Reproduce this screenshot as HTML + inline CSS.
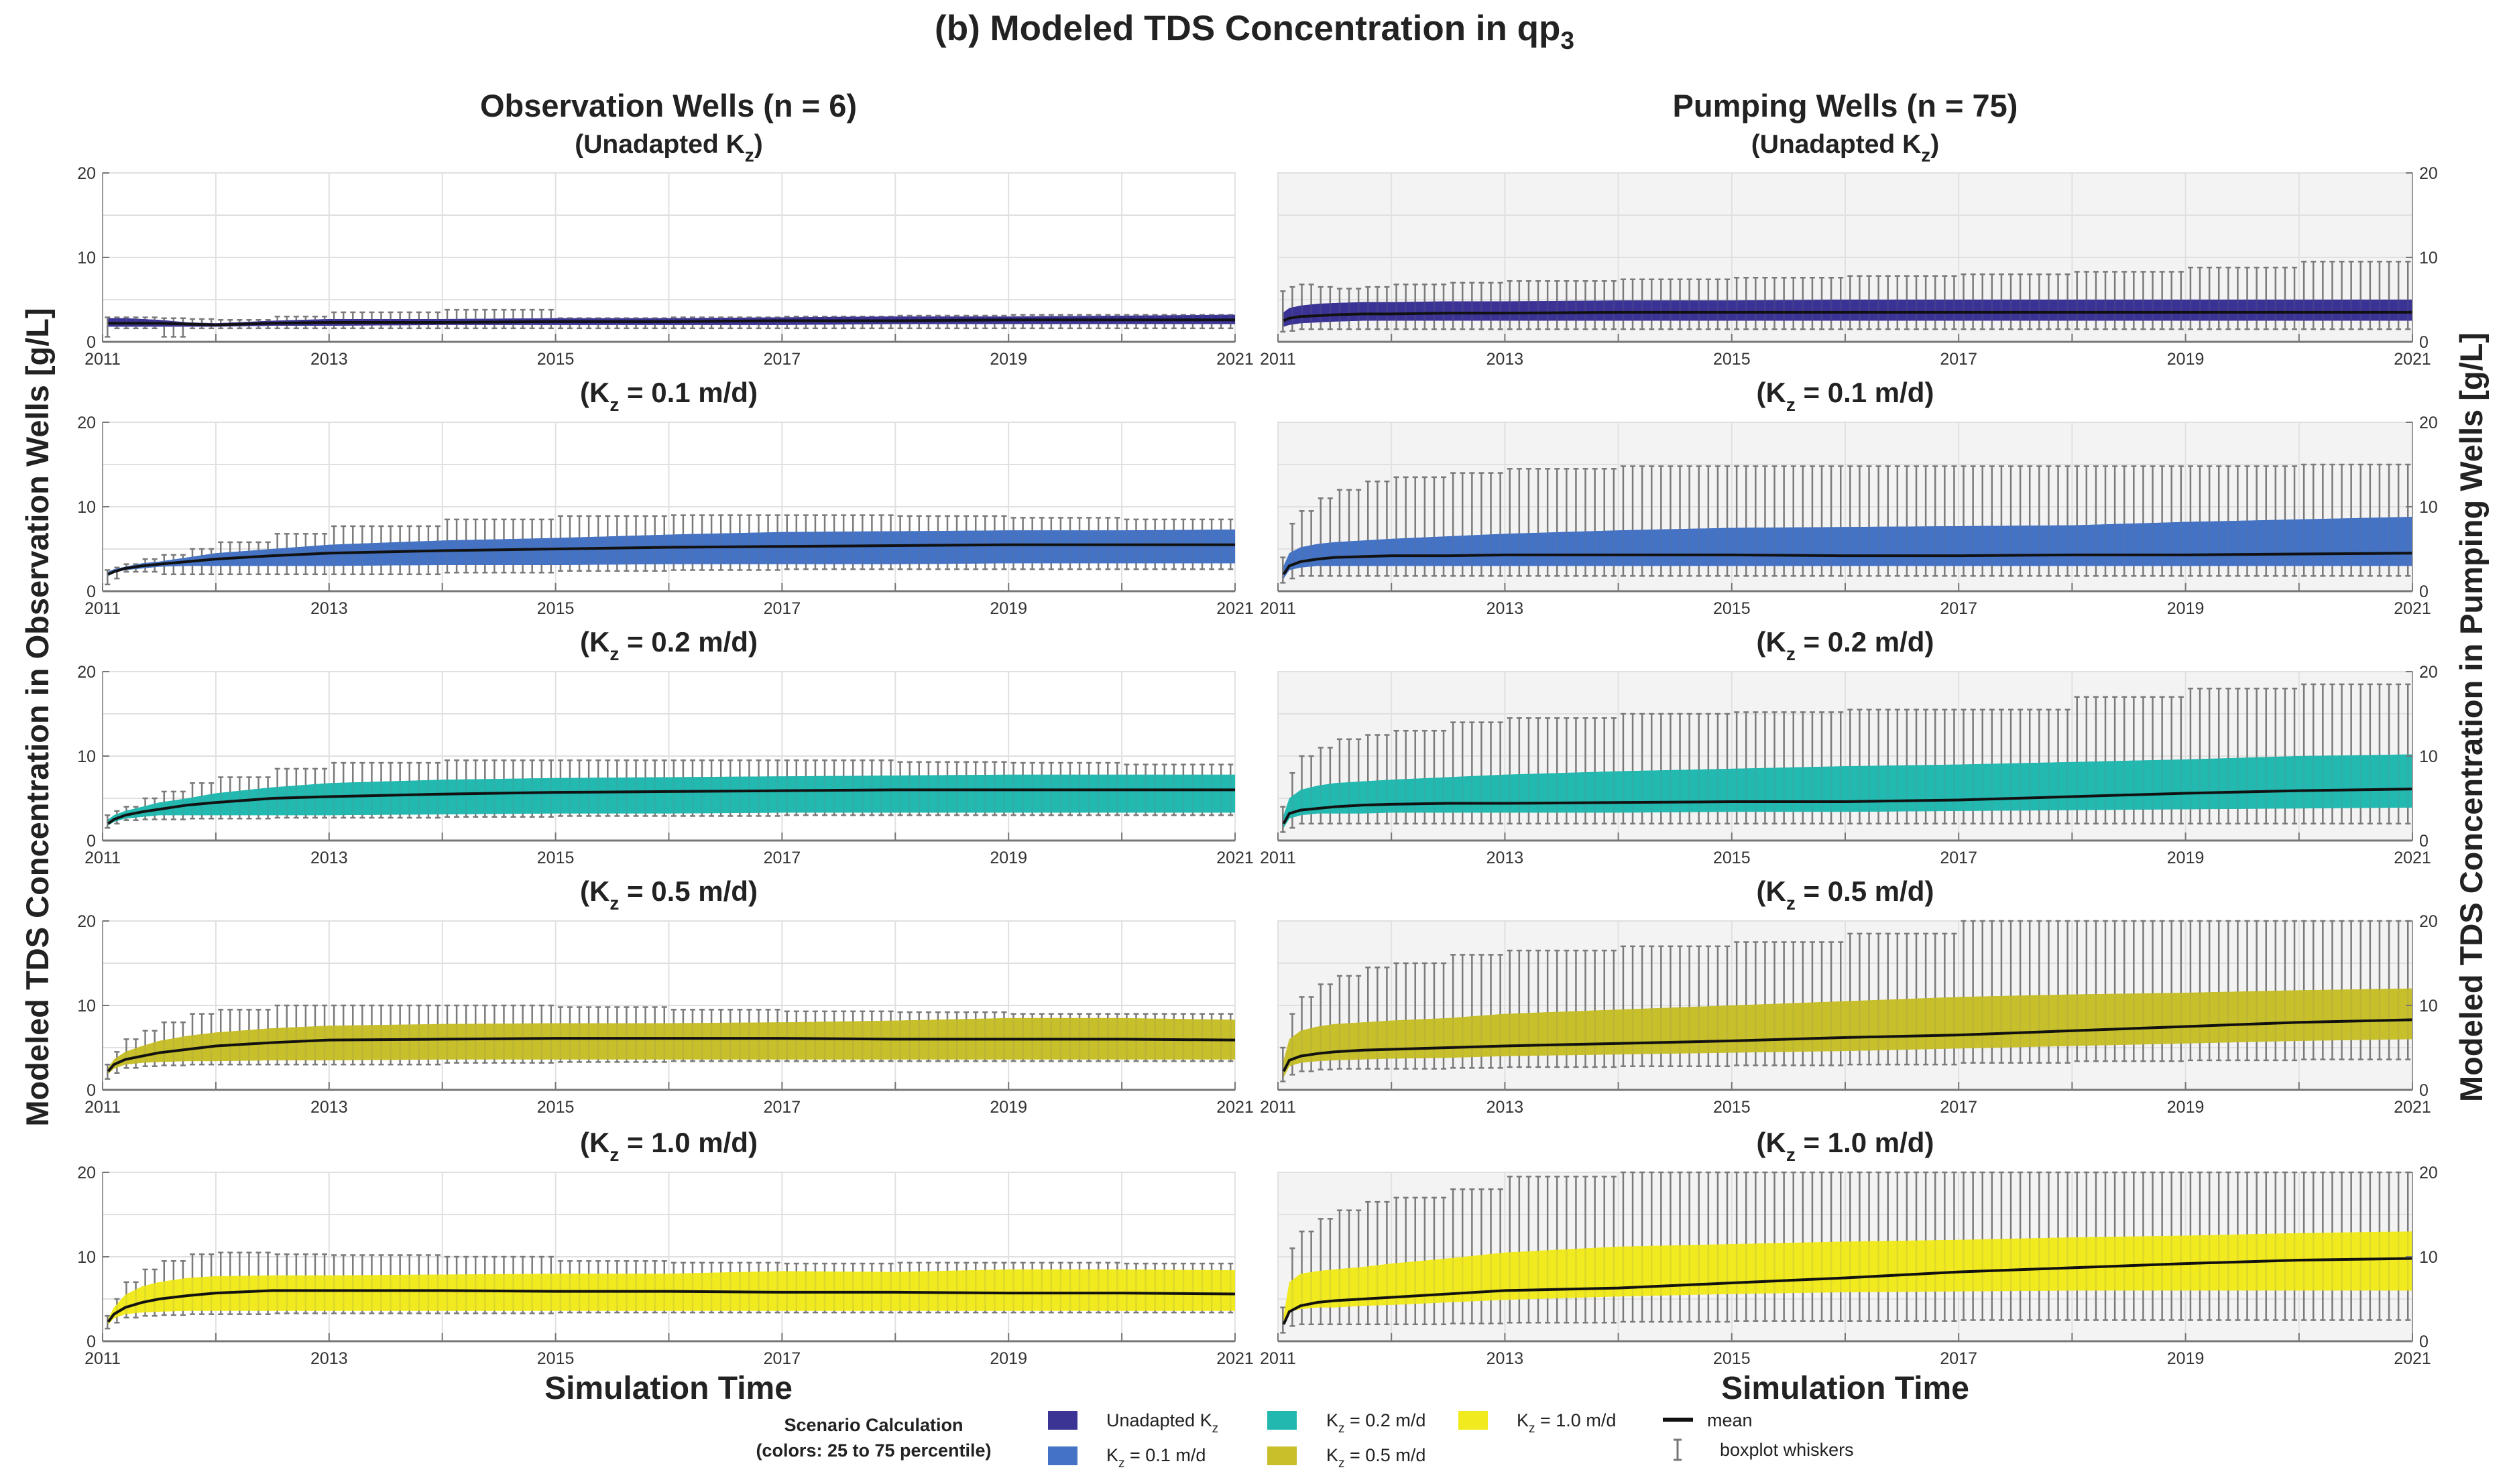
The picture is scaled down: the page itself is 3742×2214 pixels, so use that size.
<!DOCTYPE html>
<html><head><meta charset="utf-8"><style>
html,body{margin:0;padding:0;background:#fff}
svg{display:block;font-family:"Liberation Sans",Arial,sans-serif}
</style></head><body>
<svg id="chart" width="3742" height="2214" viewBox="0 0 3742 2214" xmlns="http://www.w3.org/2000/svg">
<text x="1871" y="60" text-anchor="middle" font-size="53" font-weight="bold" fill="#222">(b) Modeled TDS Concentration in qp<tspan font-size="37" dy="13">3</tspan></text>
<text x="997" y="174" text-anchor="middle" font-size="47" font-weight="bold" fill="#222">Observation Wells (n = 6)</text>
<text x="2752" y="174" text-anchor="middle" font-size="47" font-weight="bold" fill="#222">Pumping Wells (n = 75)</text>
<text transform="translate(72,1070) rotate(-90)" text-anchor="middle" font-size="47" font-weight="bold" fill="#222">Modeled TDS Concentration in Observation Wells [g/L]</text>
<text transform="translate(3702,1070) rotate(-90)" text-anchor="middle" font-size="47" font-weight="bold" fill="#222">Modeled TDS Concentration in Pumping Wells [g/L]</text>
<text x="997" y="2087" text-anchor="middle" font-size="48" font-weight="bold" fill="#222">Simulation Time</text>
<text x="2752" y="2087" text-anchor="middle" font-size="48" font-weight="bold" fill="#222">Simulation Time</text>
<g id="panels"></g>
<g font-size="27" fill="#222">
  <text x="1303" y="2135" text-anchor="middle" font-weight="bold" font-size="27">Scenario Calculation</text>
  <text x="1303" y="2173" text-anchor="middle" font-weight="bold" font-size="27">(colors: 25 to 75 percentile)</text>
  <rect x="1563" y="2105" width="44" height="28" fill="#3b3495"/>
  <text x="1650" y="2128">Unadapted K<tspan font-size="19" dy="9">z</tspan></text>
  <rect x="1563" y="2158" width="44" height="28" fill="#4472c4"/>
  <text x="1650" y="2180">K<tspan font-size="19" dy="9">z</tspan><tspan dy="-9"> = 0.1 m/d</tspan></text>
  <rect x="1890" y="2105" width="44" height="28" fill="#22b8b0"/>
  <text x="1978" y="2128">K<tspan font-size="19" dy="9">z</tspan><tspan dy="-9"> = 0.2 m/d</tspan></text>
  <rect x="1890" y="2158" width="44" height="28" fill="#c8bf2a"/>
  <text x="1978" y="2180">K<tspan font-size="19" dy="9">z</tspan><tspan dy="-9"> = 0.5 m/d</tspan></text>
  <rect x="2175" y="2105" width="44" height="28" fill="#f0ea1e"/>
  <text x="2262" y="2128">K<tspan font-size="19" dy="9">z</tspan><tspan dy="-9"> = 1.0 m/d</tspan></text>
  <line x1="2480" y1="2118" x2="2525" y2="2118" stroke="#111" stroke-width="6"/>
  <text x="2546" y="2128">mean</text>
  <g stroke="#777" stroke-width="3">
    <line x1="2502" y1="2148" x2="2502" y2="2178"/><line x1="2496" y1="2148" x2="2508" y2="2148"/><line x1="2496" y1="2178" x2="2508" y2="2178"/>
  </g>
  <text x="2565" y="2172">boxplot whiskers</text>
</g>
</svg>
<script>
// time knots (years since 2011)
const tKnots = [0.05,0.1,0.2,0.35,0.5,0.75,1,1.5,2,3,4,5,6,7,8,9,10];
const yearLabels = ["2011","2013","2015","2017","2019","2021"];
const yTicks = [0,10,20];
const panelTitles = ["(Unadapted K_z)","(K_z = 0.1 m/d)","(K_z = 0.2 m/d)","(K_z = 0.5 m/d)","(K_z = 1.0 m/d)"];
const scenarioColors = ["#3b3495","#4472c4","#22b8b0","#c8bf2a","#f0ea1e"];
// observation wells
const obsMean = [
 [2.2,2.2,2.2,2.2,2.2,2.1,2.0,2.2,2.3,2.3,2.4,2.4,2.5,2.5,2.6,2.6,2.6],
 [2.0,2.3,2.7,3.0,3.2,3.5,3.8,4.2,4.5,4.8,5.0,5.2,5.3,5.4,5.5,5.5,5.5],
 [2.0,2.5,3.0,3.4,3.7,4.2,4.5,5.0,5.2,5.5,5.7,5.8,5.9,6.0,6.0,6.0,6.0],
 [2.2,3.0,3.6,4.0,4.4,4.8,5.2,5.6,5.9,6.0,6.1,6.1,6.1,6.0,6.0,6.0,5.9],
 [2.3,3.2,4.0,4.6,5.0,5.4,5.7,6.0,6.0,6.0,5.9,5.9,5.8,5.8,5.7,5.7,5.6]];
const obsLow = [
 [1.8,1.8,1.8,1.8,1.8,1.8,1.8,1.9,1.9,2.0,2.0,2.0,2.0,2.1,2.1,2.1,2.1],
 [1.8,2.2,2.5,2.7,2.9,3.0,3.0,3.0,3.0,3.1,3.1,3.2,3.2,3.2,3.3,3.3,3.3],
 [1.8,2.2,2.6,2.8,3.0,3.0,3.0,3.0,3.0,3.1,3.2,3.2,3.3,3.3,3.3,3.3,3.3],
 [1.9,2.5,3.0,3.2,3.3,3.4,3.4,3.5,3.5,3.6,3.6,3.6,3.6,3.6,3.6,3.6,3.6],
 [2.0,2.7,3.2,3.4,3.5,3.6,3.6,3.6,3.6,3.6,3.6,3.6,3.6,3.6,3.6,3.6,3.6]];
const obsHigh = [
 [2.8,2.8,2.8,2.7,2.6,2.3,2.2,2.5,2.7,2.7,2.8,2.8,2.9,3.0,3.0,3.1,3.2],
 [2.3,2.6,2.9,3.3,3.5,4.0,4.5,5.0,5.5,6.0,6.3,6.7,7.0,7.1,7.2,7.2,7.3],
 [2.5,3.0,3.5,4.0,4.5,5.0,5.6,6.3,6.8,7.2,7.4,7.5,7.6,7.7,7.8,7.8,7.8],
 [2.6,3.6,4.5,5.2,5.8,6.4,6.8,7.3,7.6,7.8,7.9,7.9,8.0,8.2,8.5,8.5,8.3],
 [2.7,4.0,5.5,6.5,7.0,7.5,7.7,7.8,7.8,7.9,8.0,8.0,8.3,8.2,8.5,8.5,8.4]];
const obsWhiskHigh = [
 [2.9,2.9,2.9,2.9,2.8,2.7,2.6,3.0,3.5,3.8,2.8,2.9,3.0,3.1,3.2,3.2,3.3],
 [2.5,2.8,3.2,3.8,4.3,5.0,5.8,6.8,7.7,8.5,8.9,9.0,9.0,8.9,8.7,8.5,8.1],
 [3.0,3.5,4.0,5.0,5.8,6.8,7.5,8.5,9.2,9.5,9.5,9.5,9.5,9.3,9.2,9.0,8.8],
 [3.0,4.5,6.0,7.0,8.0,9.0,9.5,10.0,10.0,10.0,9.8,9.5,9.3,9.2,9.0,9.0,8.8],
 [3.0,5.0,7.0,8.5,9.5,10.3,10.5,10.3,10.2,10.0,9.5,9.3,9.2,9.3,9.3,9.2,9.0]];
const obsWhiskLow = [
 [0.6,1.6,1.6,1.6,0.6,1.6,1.6,1.6,1.6,1.6,1.6,1.6,1.6,1.6,1.6,1.6,1.6],
 [0.8,1.5,2.3,2.3,2.0,2.0,2.0,2.0,2.0,2.2,2.4,2.5,2.6,2.6,2.6,2.6,2.6],
 [1.5,2.0,2.4,2.5,2.5,2.6,2.6,2.7,2.7,2.8,2.9,2.9,3.0,3.0,3.0,3.0,3.0],
 [1.3,2.0,2.6,2.8,2.9,3.0,3.0,3.0,3.0,3.2,3.3,3.4,3.4,3.4,3.4,3.4,3.4],
 [1.5,2.2,2.8,3.0,3.1,3.2,3.2,3.3,3.3,3.3,3.4,3.4,3.4,3.4,3.4,3.4,3.4]];
// pumping wells
const pumpMean = [
 [2.5,2.8,3.0,3.1,3.2,3.3,3.3,3.4,3.4,3.5,3.5,3.5,3.5,3.5,3.5,3.5,3.5],
 [2.0,3.0,3.5,3.8,4.0,4.1,4.2,4.2,4.3,4.3,4.3,4.2,4.2,4.3,4.3,4.4,4.5],
 [2.0,3.2,3.6,3.8,4.0,4.2,4.3,4.4,4.4,4.5,4.6,4.6,4.8,5.2,5.6,5.9,6.1],
 [2.2,3.5,4.0,4.3,4.5,4.7,4.8,5.0,5.2,5.5,5.8,6.2,6.5,7.0,7.5,8.0,8.3],
 [2.0,3.5,4.2,4.6,4.8,5.0,5.2,5.6,6.0,6.3,6.9,7.5,8.2,8.7,9.2,9.6,9.8]];
const pumpLow = [
 [1.8,2.0,2.2,2.3,2.4,2.5,2.5,2.5,2.5,2.5,2.5,2.5,2.5,2.5,2.5,2.5,2.5],
 [1.5,2.5,2.8,3.0,3.0,3.0,3.0,3.0,3.0,3.0,3.0,3.0,3.0,3.0,3.0,3.0,3.0],
 [1.5,2.6,3.0,3.2,3.2,3.2,3.3,3.3,3.3,3.3,3.4,3.4,3.5,3.6,3.7,3.8,3.9],
 [1.5,2.8,3.2,3.4,3.5,3.6,3.7,3.8,4.0,4.2,4.4,4.6,4.9,5.2,5.5,5.8,6.0],
 [2.0,3.5,3.8,4.0,4.0,4.2,4.3,4.6,4.9,5.3,5.6,5.8,5.9,6.0,6.0,6.0,6.0]];
const pumpHigh = [
 [3.5,4.0,4.3,4.5,4.6,4.7,4.7,4.8,4.8,4.9,4.9,5.0,5.0,5.0,5.0,5.0,5.0],
 [3.0,4.5,5.2,5.6,5.8,6.0,6.2,6.5,6.8,7.2,7.5,7.6,7.7,7.8,8.2,8.5,8.8],
 [3.0,5.0,6.0,6.5,6.8,7.0,7.2,7.5,7.8,8.2,8.5,8.8,9.0,9.3,9.6,10.0,10.2],
 [3.5,6.0,7.0,7.5,7.8,8.0,8.2,8.5,9.0,9.5,10.0,10.5,11.0,11.3,11.5,11.8,12.0],
 [3.0,7.0,8.0,8.3,8.5,8.8,9.2,9.8,10.5,11.2,11.5,11.8,12.0,12.3,12.5,12.8,13.0]];
const pumpWhiskHigh = [
 [6.0,6.5,6.8,6.5,6.3,6.5,6.8,7.0,7.2,7.4,7.6,7.8,8.0,8.3,8.8,9.5,7.5],
 [4.0,8.0,9.5,11.0,12.0,13.0,13.5,14.0,14.5,14.8,14.8,14.8,14.8,14.8,14.8,15.0,15.2],
 [4.0,8.0,10.0,11.0,12.0,12.5,13.0,14.0,14.5,15.0,15.2,15.5,15.5,17.0,18.0,18.5,17.5],
 [5.0,9.0,11.0,12.5,13.5,14.5,15.0,16.0,16.5,17.0,17.5,18.5,20.0,20.0,20.0,20.0,20.0],
 [4.0,11.0,13.0,14.5,15.5,16.5,17.0,18.0,19.5,20.0,20.0,20.0,20.0,20.0,20.0,20.0,20.0]];
const pumpWhiskLow = [
 [1.2,1.3,1.5,1.5,1.5,1.5,1.5,1.5,1.5,1.5,1.5,1.5,1.5,1.5,1.5,1.5,1.5],
 [1.0,1.5,1.8,1.8,1.8,1.8,1.8,1.8,1.8,1.8,1.8,1.8,1.8,1.8,1.8,1.8,1.8],
 [1.0,1.5,2.0,2.0,2.0,2.0,2.0,2.0,2.0,2.0,2.0,2.0,2.0,2.0,2.0,2.0,2.0],
 [1.0,1.8,2.2,2.4,2.5,2.5,2.5,2.6,2.7,2.8,2.9,3.0,3.2,3.4,3.5,3.6,3.7],
 [1.0,1.8,2.0,2.0,2.0,2.0,2.0,2.1,2.2,2.3,2.4,2.4,2.5,2.5,2.5,2.5,2.5]];

const NS = "http://www.w3.org/2000/svg";
const root = document.getElementById("panels");
const rowTops = [258,630,1002,1374,1749];
const PH = 252;
const cols = [{x0:153,x1:1842,side:"left",bg:"#ffffff"},{x0:1906,x1:3598,side:"right",bg:"#f3f3f3"}];
function mk(tag, attrs, parent){ const e=document.createElementNS(NS,tag); for(const k in attrs) e.setAttribute(k,attrs[k]); parent.appendChild(e); return e; }
function stepVal(arr, t){ let v=arr[0]; for(let i=0;i<tKnots.length;i++){ if(tKnots[i]<=t) v=arr[i]; } return v; }

for(let c=0;c<2;c++){
  const col=cols[c];
  const mean = c===0?obsMean:pumpMean, lo=c===0?obsLow:pumpLow, hi=c===0?obsHigh:pumpHigh;
  const wh = c===0?obsWhiskHigh:pumpWhiskHigh, wl=c===0?obsWhiskLow:pumpWhiskLow;
  for(let r=0;r<5;r++){
    const top=rowTops[r], bot=top+PH;
    const X = t => col.x0 + t/10*(col.x1-col.x0);
    const Y = v => bot - v/20*PH;
    const g = mk("g",{},root);
    
    
    mk("rect",{x:col.x0,y:top,width:col.x1-col.x0,height:PH,fill:col.bg,stroke:"#e2e2e2","stroke-width":2},g);
    for(let v=0; v<=20; v+=5){ mk("line",{x1:col.x0,x2:col.x1,y1:Y(v),y2:Y(v),stroke:"#e0e0e0","stroke-width":2},g); }
    for(let yr=1; yr<10; yr++){ mk("line",{x1:X(yr),x2:X(yr),y1:top,y2:bot,stroke:"#e0e0e0","stroke-width":2},g); }
    let pts=[];
    for(let i=0;i<tKnots.length;i++) pts.push(X(tKnots[i])+","+Y(hi[r][i]));
    pts.push(X(10)+","+Y(hi[r][tKnots.length-1]));
    pts.push(X(10)+","+Y(lo[r][tKnots.length-1]));
    for(let i=tKnots.length-1;i>=0;i--) pts.push(X(tKnots[i])+","+Y(lo[r][i]));
    const band = mk("polygon",{points:pts.join(" "),fill:scenarioColors[r]},g);
    
    
    const wg = mk("g",{stroke:"#7a7a7a","stroke-width":2.5},g);
    
    
    for(let m=1;m<=120;m++){
      const t=m/12 - 0.04;
      const x=X(t), yh=Y(Math.min(20,stepVal(wh[r],t))), yl=Y(stepVal(wl[r],t));
      mk("line",{x1:x,x2:x,y1:yh,y2:yl},wg);
      mk("line",{x1:x-4,x2:x+4,y1:yh,y2:yh},wg);
      mk("line",{x1:x-4,x2:x+4,y1:yl,y2:yl},wg);
    }
    mk("polygon",{points:pts.join(" "),fill:scenarioColors[r],opacity:0.85},g);
    let mp=[]; for(let i=0;i<tKnots.length;i++) mp.push(X(tKnots[i])+","+Y(mean[r][i]));
    const ml = mk("polyline",{points:mp.join(" "),fill:"none",stroke:"#111","stroke-width":4},g);
    
    
    mk("line",{x1:col.x0,x2:col.x1,y1:bot,y2:bot,stroke:"#777","stroke-width":3},g);
    const ax = col.side==="left"?col.x0:col.x1;
    mk("line",{x1:ax,x2:ax,y1:top,y2:bot,stroke:"#999","stroke-width":2},g);
    for(let yr=0; yr<=10; yr++) mk("line",{x1:X(yr),x2:X(yr),y1:bot,y2:bot-12,stroke:"#777","stroke-width":2},g);
    for(let i=0;i<yearLabels.length;i++){
      const tx = mk("text",{x:X(i*2),y:bot+34,"text-anchor":"middle","font-size":25,fill:"#333"},g);
      tx.textContent = yearLabels[i];
      
      
    }
    for(const v of yTicks){
      const tx = mk("text",{x:col.side==="left"?ax-10:ax+10,y:Y(v)+9,"text-anchor":col.side==="left"?"end":"start","font-size":25,fill:"#333"},g);
      tx.textContent = v;
      
      
      mk("line",{x1:ax,x2:col.side==="left"?ax+10:ax-10,y1:Y(v),y2:Y(v),stroke:"#777","stroke-width":2},g);
    }
    const cx=(col.x0+col.x1)/2;
    const st = mk("text",{x:cx,y:top-30,"text-anchor":"middle","font-size":r===0?39:42,"font-weight":"bold",fill:"#222"},g);
    
    
    const parts = panelTitles[r].split("_z");
    const t1=document.createElementNS(NS,"tspan"); t1.textContent=parts[0]; st.appendChild(t1);
    const t2=document.createElementNS(NS,"tspan"); t2.setAttribute("font-size","28"); t2.setAttribute("dy","13"); t2.textContent="z"; st.appendChild(t2);
    const t3=document.createElementNS(NS,"tspan"); t3.setAttribute("dy","-13"); t3.textContent=parts[1]; st.appendChild(t3);
  }
}
</script>
</body></html>
